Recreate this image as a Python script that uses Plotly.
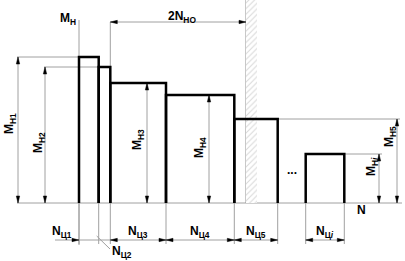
import plotly.graph_objects as go

# ---- data (schematic units; 1 unit ~ 1 px) ----
moment_labels = ["M<sub>Н1</sub>", "M<sub>Н2</sub>", "M<sub>Н3</sub>", "M<sub>Н4</sub>", "M<sub>Н5</sub>", "M<sub>Н<i>i</i></sub>"]
cycle_labels = ["N<sub>Ц1</sub>", "N<sub>Ц2</sub>", "N<sub>Ц3</sub>", "N<sub>Ц4</sub>", "N<sub>Ц5</sub>", "N<sub>Ц<i>i</i></sub>"]
heights = [146, 136, 120, 108, 84, 49]          # M_H levels
widths = [19.7, 11.6, 55.7, 68.3, 43.4, 38.6]   # N_C cycle counts
gaps = [0, 0, 0, 0, 0, 28]                      # gap before each block ("...")
n_ho2 = 135.7                                   # 2N_HO measured from end of block 2

GREY = "#a0a0a0"
FONT = dict(family="Liberation Sans, Arial", size=12, color="black")

# cumulative positions
x0s, x1s = [], []
cur = 0
for w, g in zip(widths, gaps):
    cur += g
    x0s.append(cur)
    cur += w
    x1s.append(cur)

fig = go.Figure()
shapes = []
ann = []

def gline(xa, ya, xb, yb, color=GREY, width=1):
    shapes.append(dict(type="line", x0=xa, y0=ya, x1=xb, y1=yb, xref="x", yref="y",
                       line=dict(color=color, width=width), layer="below"))

def head(x, y, direction, L=7, hw=1.7):
    if direction == "up":
        pts = [(x, y), (x - hw, y - L), (x + hw, y - L)]
    elif direction == "down":
        pts = [(x, y), (x - hw, y + L), (x + hw, y + L)]
    elif direction == "right":
        pts = [(x, y), (x - L, y - hw), (x - L, y + hw)]
    else:
        pts = [(x, y), (x + L, y - hw), (x + L, y + hw)]
    path = "M " + " L ".join(f"{a:.2f},{b:.2f}" for a, b in pts) + " Z"
    shapes.append(dict(type="path", path=path, xref="x", yref="y",
                       fillcolor="black", line=dict(color="black", width=0.5)))

def label(x, y, text, angle=0):
    ann.append(dict(x=x, y=y, xref="x", yref="y", text="<b>" + text + "</b>", showarrow=False,
                    font=FONT, textangle=angle, xanchor="center", yanchor="middle"))

wall_x = x1s[1] + n_ho2
ymax_top = 183
base_left, base_right = -62, 323
dim_y = -37

# baseline
gline(base_left, 0, base_right, 0)
# vertical axis M_H
gline(0, -42, 0, ymax_top)
# extension lines below baseline for block edges
for x in sorted(set(x0s + x1s)):
    gline(x, 0, x, -41)
# extension above block 2 for 2N_HO
gline(x1s[1], heights[1], x1s[1], 181)

# hatched wall
fig.add_trace(go.Scatter(x=[wall_x, wall_x + 11, wall_x + 11, wall_x, wall_x],
                         y=[0, 0, 203, 203, 0], fill="toself", mode="lines",
                         line=dict(width=0, color="rgba(0,0,0,0)"),
                         fillcolor="white",
                         fillpattern=dict(shape="/", size=4, fgcolor="#b0b0b0", bgcolor="white", solidity=0.25),
                         hoverinfo="skip"))
gline(wall_x, 0, wall_x, 203, color="#909090", width=1)

# 2N_HO dimension
gline(x1s[1], 181, wall_x, 181)
head(x1s[1], 181, "left")
head(wall_x, 181, "right")
label((x1s[1] + wall_x) / 2 + 4, 186, "2N<sub>НО</sub>")

# M_H label
label(-11, 184, "M<sub>Н</sub>")

# vertical moment dimensions
dim_x = [-61, -34, 68, 130, 318, 300]
lab_pos = [(-69, 79), (-40, 60), (59, 63), (121, 55), (311, 66), (293, 36)]
for i, (h, dx) in enumerate(zip(heights, dim_x)):
    gline(dx, 0, dx, h)
    head(dx, h, "up")
    head(dx, 0, "down")
    if dx < x0s[i] or dx > x1s[i]:
        edge = x0s[i] if dx < x0s[i] else x1s[i]
        ext = dx - 1 if dx < x0s[i] else dx + 3
        gline(ext, h, edge, h)
    label(lab_pos[i][0], lab_pos[i][1], moment_labels[i], angle=-90)

# blocks
for x0, x1, h in zip(x0s, x1s, heights):
    fig.add_trace(go.Scatter(x=[x0, x0, x1, x1], y=[0, h, h, 0], mode="lines",
                             line=dict(color="black", width=2.5), hoverinfo="skip"))

# bottom N_C dimension lines
gline(-24, dim_y, x1s[4], dim_y)
gline(x0s[5], dim_y, x1s[5], dim_y)
head(x0s[0], dim_y, "right")
head(x1s[1], dim_y, "left")
for i in (2, 3, 4, 5):
    if i != 2:
        head(x0s[i], dim_y, "left")
    head(x1s[i], dim_y, "right")
    label((x0s[i] + x1s[i]) / 2, -29, cycle_labels[i])
# N_C1 and N_C2 labels (narrow blocks)
label(-17, -29, cycle_labels[0])
gline(17.7, -33, 31, -46)
label(43, -49, cycle_labels[1])

# "..." and N
label(213, 33, "...")
label(282, -7, "N")

fig.update_layout(width=405, height=261, margin=dict(l=0, r=0, t=0, b=0),
                  paper_bgcolor="white", plot_bgcolor="white", showlegend=False,
                  xaxis=dict(range=[-79, 326], visible=False, fixedrange=True),
                  yaxis=dict(range=[-58, 203], visible=False, fixedrange=True),
                  shapes=shapes, annotations=ann)
fig.write_html("out.html")
